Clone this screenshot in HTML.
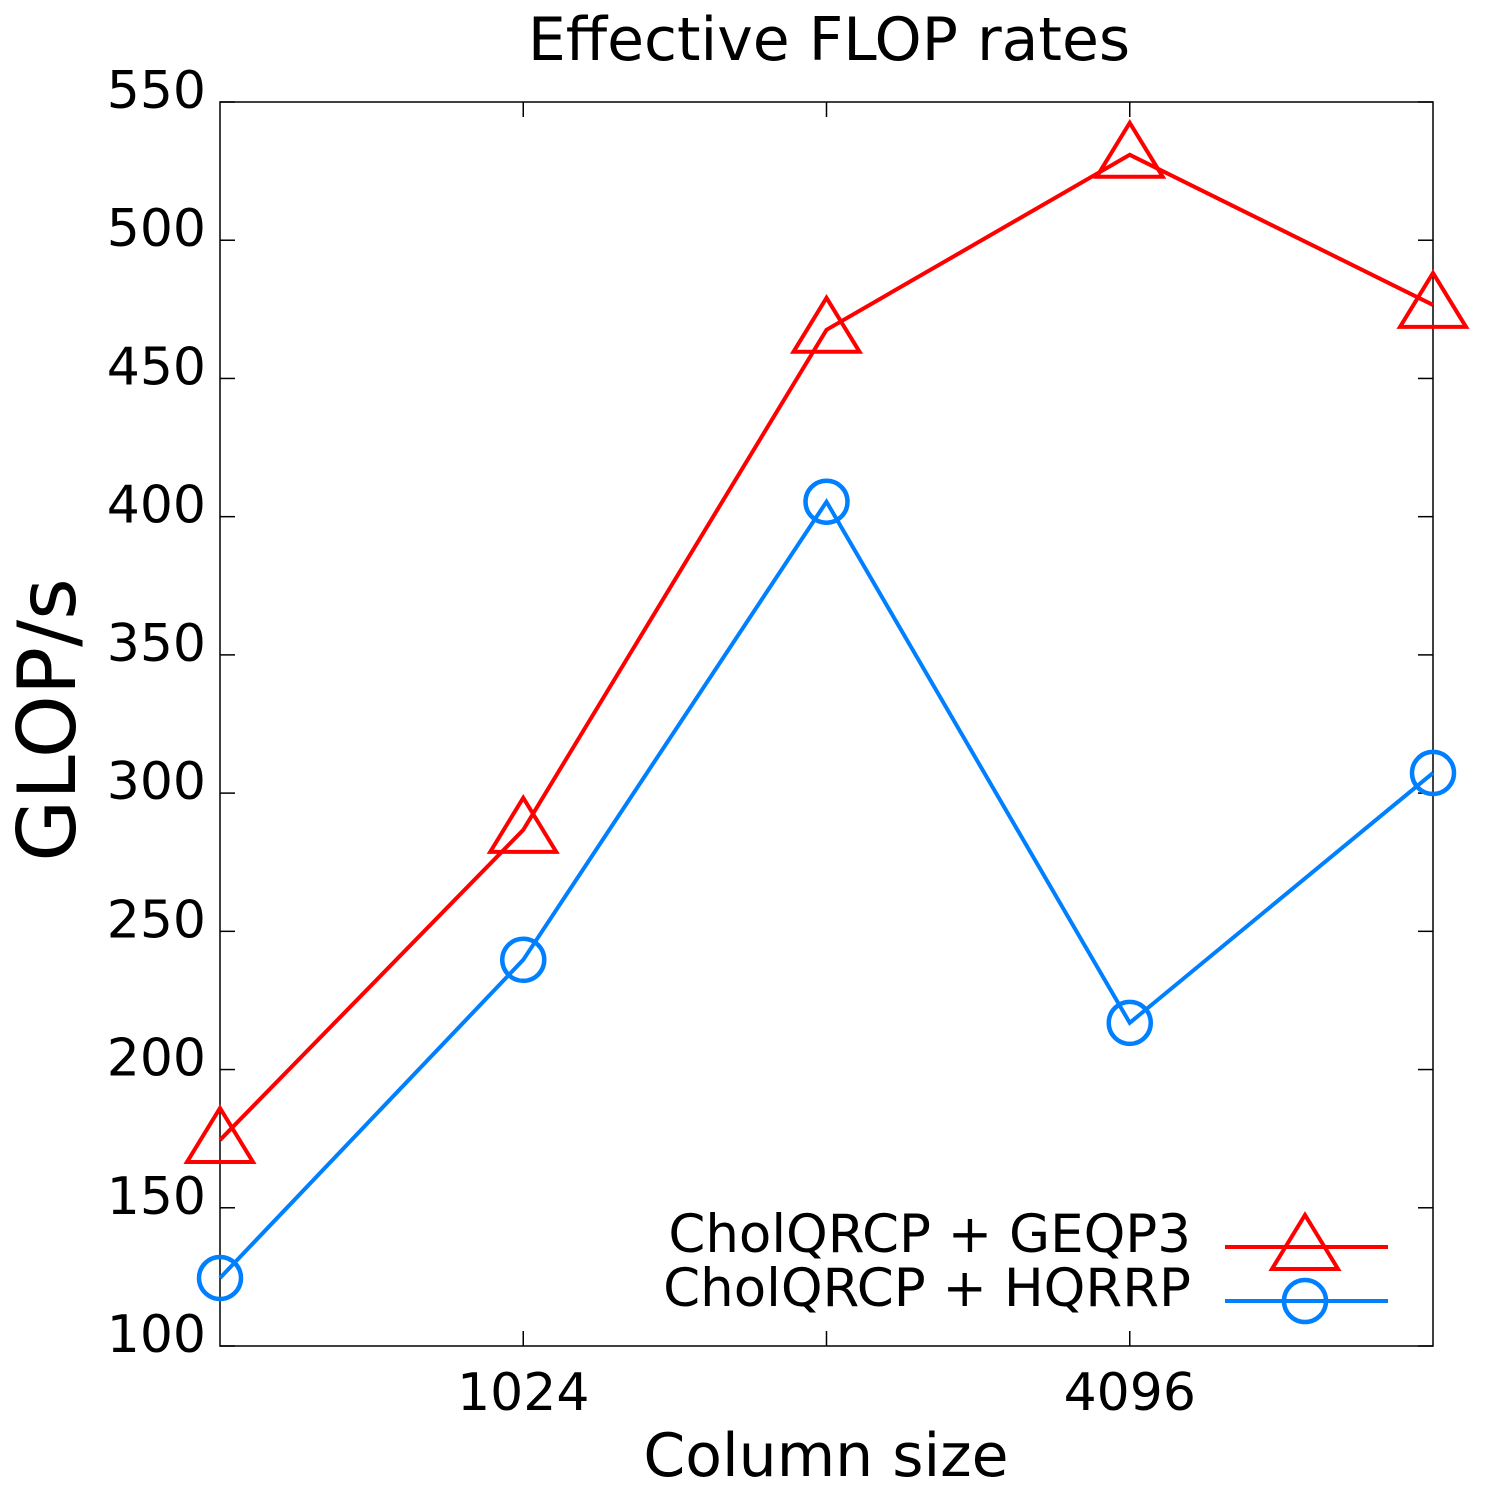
<!DOCTYPE html>
<html><head><meta charset="utf-8"><style>
html,body{margin:0;padding:0;background:#fff}
svg text{font-family:"DejaVu Sans","Liberation Sans",sans-serif;fill:#000}
</style></head><body>
<svg id="chart" width="1500" height="1500" viewBox="0 0 1500 1500" xmlns="http://www.w3.org/2000/svg">
<rect x="0" y="0" width="1500" height="1500" fill="#fff"/>
<text x="829" y="60" font-size="60" text-anchor="middle">Effective FLOP rates</text>
<text transform="translate(75,720) rotate(-90)" font-size="80" text-anchor="middle">GLOP/s</text>
<text x="826" y="1476" font-size="60" text-anchor="middle">Column size</text>
<g id="axes"></g>
<g id="series"></g>
<g id="legend"></g>
</svg>
<script>
const categories = [512, 1024, 2048, 4096, 8192];
const xTickLabels = [null, "1024", null, "4096", null];
const geqp3Values = [174.5, 286.7, 467.6, 530.9, 476.6];
const hqrrpValues = [124.6, 239.7, 405.4, 216.9, 307.3];
const yTicks = [100,150,200,250,300,350,400,450,500,550];
const seriesNames = ["CholQRCP + GEQP3", "CholQRCP + HQRRP"];

const L=220,R=1433,T=102,B=1346;
const NS="http://www.w3.org/2000/svg";
function xs(v){const a=Math.log2(categories[0]),b=Math.log2(categories[categories.length-1]);return L+(Math.log2(v)-a)/(b-a)*(R-L);}
function ys(v){return B-(v-100)/(550-100)*(B-T);}
function mk(tag,attrs,parent){const e=document.createElementNS(NS,tag);for(const k in attrs)e.setAttribute(k,attrs[k]);parent.appendChild(e);return e;}
const axes=document.getElementById('axes');
const frame=mk('rect',{x:L,y:T,width:R-L,height:B-T,fill:'none',stroke:'#000','stroke-width':1.5},axes);


yTicks.forEach(v=>{const y=ys(v);
 const t1=mk('line',{x1:L,x2:L+15,y1:y,y2:y,stroke:'#000','stroke-width':1.5},axes);
 
 
 const t2=mk('line',{x1:R-15,x2:R,y1:y,y2:y,stroke:'#000','stroke-width':1.5},axes);
 
 
 const tx=mk('text',{x:206,y:y+6,'font-size':52,'text-anchor':'end'},axes);tx.textContent=v;
 
 
});
categories.forEach((c,i)=>{const x=xs(c);
 if(i>0&&i<categories.length-1){
 const t1=mk('line',{x1:x,x2:x,y1:B,y2:B-15,stroke:'#000','stroke-width':1.5},axes);
 
 
 const t2=mk('line',{x1:x,x2:x,y1:T,y2:T+15,stroke:'#000','stroke-width':1.5},axes);
 
 }
 if(xTickLabels[i]){const tx=mk('text',{x:x,y:1410,'font-size':52,'text-anchor':'middle'},axes);tx.textContent=xTickLabels[i];
 
 }
});
function tri(g,x,y){return mk('polygon',{points:`${x-33},${y+22} ${x+33},${y+22} ${x},${y-32}`,fill:'none',stroke:'#f00','stroke-width':4},g);}
function circ(g,x,y){return mk('circle',{cx:x,cy:y,r:21,fill:'none',stroke:'#0080ff','stroke-width':4.5},g);}
const ser=document.getElementById('series');
[[geqp3Values,'#f00',tri,'geqp3'],[hqrrpValues,'#0080ff',circ,'hqrrp']].forEach(([vals,col,m,n])=>{
 const g=mk('g',{},ser);
 
 
 const pl=mk('polyline',{points:vals.map((v,i)=>xs(categories[i])+','+ys(v)).join(' '),fill:'none',stroke:col,'stroke-width':4},g);
 
 
 vals.forEach((v,i)=>{const p=m(g,xs(categories[i]),ys(v));
 
 });
});
const lg=document.getElementById('legend');
[[seriesNames[0],'#f00',tri,1234,'geqp3'],[seriesNames[1],'#0080ff',circ,1288,'hqrrp']].forEach(([name,col,m,y,n])=>{
 const tx=mk('text',{x:1191,y:y+18,'font-size':53,'text-anchor':'end'},lg);tx.textContent=name;
 
 
 const ln=mk('line',{x1:1225,x2:1388,y1:y+13,y2:y+13,stroke:col,'stroke-width':4},lg);
 
 
 const p=m(lg,1305,y+13);
 
 
});
</script>
</body></html>
